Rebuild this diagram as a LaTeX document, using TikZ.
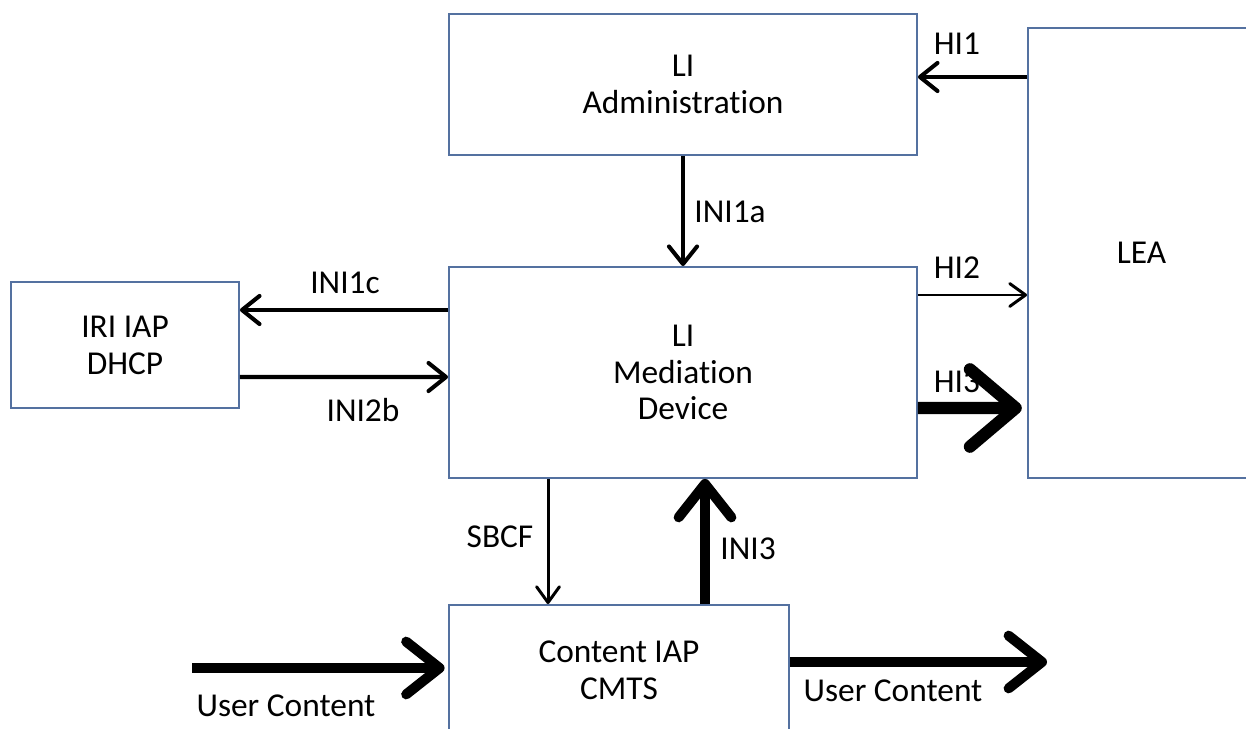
\documentclass[tikz,border=0pt]{standalone}
\usepackage{fontspec}
\setmainfont{Carlito}[Ligatures=NoCommon]
\usetikzlibrary{arrows.meta,calc}
\definecolor{boxline}{RGB}{84,113,160}

\tikzset{
  block/.style={draw=boxline, line width=1.1pt, fill=white, align=center, inner sep=0pt,
    font=\fontsize{19}{21}\selectfont},
  lbl/.style={font=\fontsize{19}{21}\selectfont, inner sep=0pt},
  thinarrow/.style={line width=1.7pt, -{Straight Barb[length=9pt,width=13pt,round]}},
  midarrow/.style={line width=2.3pt, -{Straight Barb[length=10pt,width=16pt,round]}},
  fatarrow/.style={line width=5.7pt, -{Straight Barb[length=19pt,width=30pt,round]}},
  hugearrow/.style={line width=7pt, -{Straight Barb[length=26pt,width=44pt,round]}}
}

\begin{document}
\begin{tikzpicture}[x=0.02cm, y=-0.02cm]
\fill[white] (0,0) rectangle (1246,729);
\useasboundingbox (0,0) rectangle (1246,729);
\clip (0,0) rectangle (1246,729);

% Boxes
\node[block, minimum width=9.36cm, minimum height=2.82cm] (admin) at (683,84.5) {LI\\Administration};
\node[block, minimum width=9.36cm, minimum height=4.22cm] (med) at (683,372.5) {LI\\Mediation\\Device};
\node[block, minimum width=4.56cm, minimum height=2.52cm] (iri) at (125,345) {IRI IAP\\DHCP};
\node[block, minimum width=4.54cm, minimum height=9cm] (lea) at (1141.5,253) {LEA};
\node[block, minimum width=6.8cm, minimum height=2.6cm] (cont) at (619,670) {Content IAP\\CMTS};

% Free ends of the user content flow
\coordinate (ucin) at (192,668);
\coordinate (ucout) at (1047,662);

% Labels
\node[lbl] (lhione) at (957,44) {HI1};
\node[lbl] (lini1a) at (730,212) {INI1a};
\node[lbl] (lini1c) at (345,283) {INI1c};
\node[lbl] (lini2b) at (363,410) {INI2b};
\node[lbl] (lhitwo) at (957,268) {HI2};
\node[lbl] (lhithree) at (957,382) {HI3};
\node[lbl] (lsbcf) at (500,537) {SBCF};
\node[lbl] (lini3) at (748,549) {INI3};
\node[lbl] (lucin) at (286,706) {User Content};
\node[lbl] (lucout) at (893,691) {User Content};

% Interfaces
\draw[midarrow] ($(lea.west)+(0,-176)$) -- ($(admin.east)+(0,-7.5)$); % HI1
\draw[midarrow] (admin.south) -- (med.north); % INI1a
\draw[midarrow] ($(med.west)+(0,-62.5)$) -- ($(iri.east)+(0,-35)$); % INI1c
\draw[midarrow] ($(iri.east)+(0,32)$) -- ($(med.west)+(0,4.5)$); % INI2b
\draw[thinarrow] ($(med.east)+(0,-77.5)$) -- ($(lea.west)+(0,42)$); % HI2
\draw[hugearrow, shorten >=3pt] ($(med.east)+(0,35.5)$) -- ($(lea.west)+(0,155)$); % HI3
\draw[thinarrow] ($(med.south)+(-135,0)$) -- ($(cont.north)+(-71,0)$); % SBCF
\draw[fatarrow] ($(cont.north)+(86,0)$) -- ($(med.south)+(22,0)$); % INI3

% User content
\draw[fatarrow, shorten >=2pt] (ucin) -- ($(cont.west)+(0,-2)$);
\draw[fatarrow] ($(cont.east)+(0,-8)$) -- (ucout);
\end{tikzpicture}
\end{document}
